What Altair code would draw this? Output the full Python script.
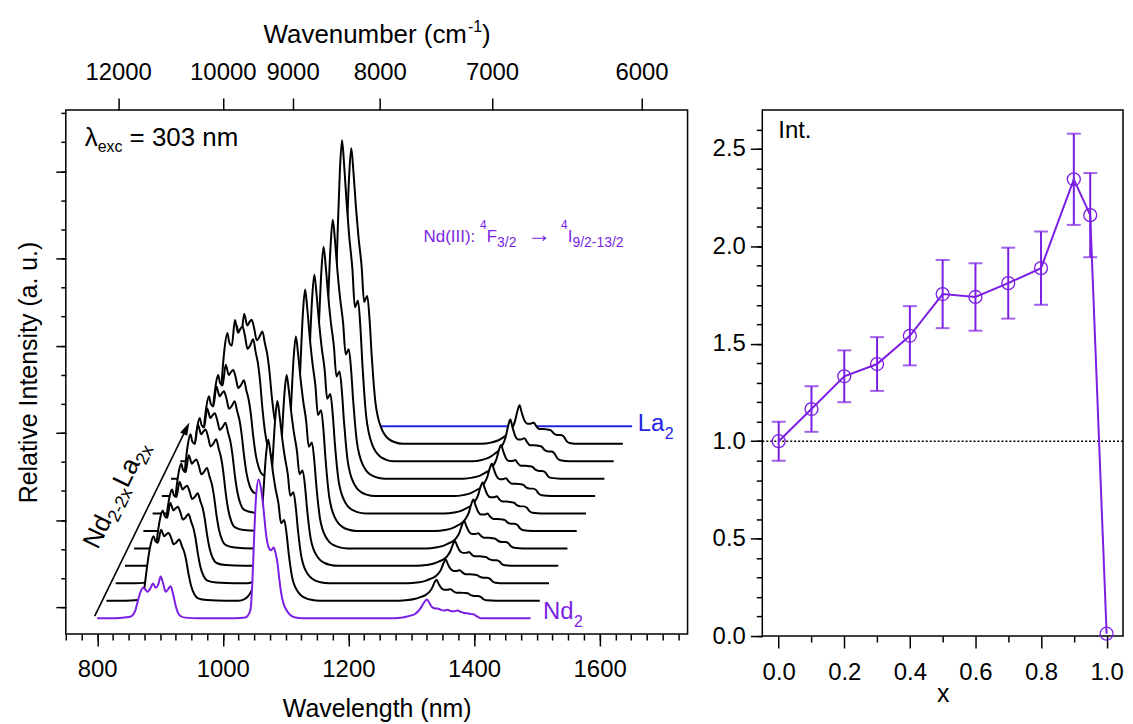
import math
import altair as alt
import pandas as pd

# ---------------------------------------------------------------- data
# Nd2 (x = 0) emission profile, normalised to the 1057 nm maximum
ND2_WAVELENGTH = [800, 830, 850, 856, 861, 865, 869, 873, 876, 880, 884, 889, 893, 897, 901, 905, 909, 913, 917, 921, 925, 929, 934, 940, 960,
                  1020, 1036, 1040, 1044, 1047, 1050, 1053, 1057, 1061, 1065, 1069, 1073, 1077, 1081, 1084, 1087, 1090, 1093, 1097, 1101, 1105, 1110, 1116, 1125,
                  1200, 1275, 1284, 1292, 1300, 1306, 1311, 1316, 1320, 1325, 1329, 1333, 1338, 1342, 1347, 1352, 1358, 1364, 1369, 1374, 1379, 1384, 1390, 1395, 1399, 1404, 1411, 1430, 1490]
ND2_INTENSITY = [0.0, 0.0, 0.008, 0.02, 0.06, 0.13, 0.19, 0.22, 0.21, 0.19, 0.21, 0.25, 0.22, 0.24, 0.30, 0.25, 0.19, 0.21, 0.23, 0.17, 0.09, 0.035, 0.012, 0.004, 0.0,
                 0.0, 0.005, 0.02, 0.06, 0.25, 0.6, 0.88, 1.0, 0.93, 0.78, 0.6, 0.51, 0.49, 0.51, 0.47, 0.4, 0.28, 0.18, 0.1, 0.06, 0.035, 0.015, 0.005, 0.0,
                 0.0, 0.0, 0.004, 0.01, 0.02, 0.03, 0.05, 0.08, 0.11, 0.135, 0.11, 0.08, 0.07, 0.07, 0.06, 0.055, 0.06, 0.05, 0.05, 0.055, 0.045, 0.038, 0.035, 0.03, 0.028, 0.015, 0.0, 0.0, 0.0]

# Nd(2-2x)La(2x) (0 < x < 1) emission profile, normalised to the 1057 nm maximum
DOPED_WAVELENGTH = [800, 830, 850, 856, 860, 864, 868, 871, 875, 878, 882, 887, 892, 895, 899, 903, 907, 911, 916, 920, 924, 927, 931, 935, 940, 946, 960, 990,
                    1010, 1020, 1028, 1035, 1041, 1046, 1050, 1054, 1057.5, 1061, 1065, 1069, 1074, 1078, 1083, 1087, 1090, 1093, 1096, 1100, 1105, 1111, 1118, 1126, 1140,
                    1200, 1265, 1280, 1292, 1301, 1308, 1313, 1318, 1322, 1325.5, 1329, 1333, 1338, 1343, 1348, 1352, 1357, 1364, 1370, 1375, 1380, 1386, 1391, 1396, 1400, 1405, 1420, 1490]
DOPED_INTENSITY = [0.0, 0.0, 0.005, 0.02, 0.07, 0.19, 0.3, 0.36, 0.4, 0.37, 0.36, 0.44, 0.4, 0.41, 0.42, 0.39, 0.35, 0.36, 0.38, 0.34, 0.3, 0.25, 0.16, 0.09, 0.04, 0.015, 0.004, 0.0,
                   0.0, 0.01, 0.04, 0.1, 0.22, 0.45, 0.68, 0.9, 1.0, 0.92, 0.8, 0.7, 0.6, 0.48, 0.5, 0.41, 0.3, 0.21, 0.14, 0.09, 0.055, 0.03, 0.015, 0.006, 0.0,
                   0.0, 0.0, 0.004, 0.012, 0.024, 0.035, 0.05, 0.075, 0.11, 0.13, 0.105, 0.08, 0.068, 0.068, 0.072, 0.06, 0.05, 0.05, 0.048, 0.046, 0.035, 0.03, 0.03, 0.024, 0.01, 0.003, 0.0, 0.0]

SAMPLE_X = [0.0, 0.1, 0.2, 0.3, 0.4, 0.5, 0.6, 0.7, 0.8, 0.9, 0.95, 1.0]
# height of the 1057 nm peak of each trace in the waterfall (a. u.)
PEAK_HEIGHT = [1.59, 1.85, 2.09, 2.19, 2.43, 2.77, 2.74, 2.86, 2.97, 3.68, 3.39, 0.0]
# integrated intensity relative to Nd2 and its error
REL_INT = [1.0, 1.165, 1.333, 1.396, 1.541, 1.755, 1.74, 1.811, 1.888, 2.344, 2.16, 0.012]
REL_INT_ERR = [0.10, 0.117, 0.133, 0.138, 0.152, 0.175, 0.173, 0.182, 0.188, 0.234, 0.216, 0.0]
REFERENCE_LEVEL = [1.0]

WAVENUMBER_TICKS = [12000, 10000, 9000, 8000, 7000, 6000]
WAVELENGTH_TICKS = [800, 1000, 1200, 1400, 1600]
WAVELENGTH_MINOR = list(range(750, 1741, 25))
INTENSITY_MAJOR = [0, 1, 2, 3, 4, 5]
INTENSITY_MINOR = [k / 3 for k in range(0, 18)]
X_MAJOR = [0.0, 0.2, 0.4, 0.6, 0.8, 1.0]
X_MINOR = [0.1, 0.3, 0.5, 0.7, 0.9]
INT_MAJOR = [0.0, 0.5, 1.0, 1.5, 2.0, 2.5]
INT_MINOR = [k / 10 for k in range(0, 27)]

# ---------------------------------------------------------------- style
PURPLE = "#7b1fe4"
BLUE = "#2323e6"
FONT = "Liberation Sans"
X_STEP = 14.7     # waterfall x offset per trace (nm)
Y_STEP = 0.2      # waterfall y offset per trace (a. u.)
Y_BASE = -0.125

W_L, W_R, H_L, H_R = 624, 362, 526, 528
XS = alt.Scale(domain=[750, 1740], nice=False, zero=False)
YS = alt.Scale(domain=[-0.307, 5.704], nice=False, zero=False)
RX = alt.Scale(domain=[-0.05, 1.05], nice=False, zero=False)
RY = alt.Scale(domain=[0, 2.7], nice=False, zero=False)


def spectrum_df(i):
    if i == 0:
        lam, prof = ND2_WAVELENGTH, ND2_INTENSITY
    else:
        lam, prof = DOPED_WAVELENGTH, DOPED_INTENSITY
    base = Y_BASE + i * Y_STEP
    return pd.DataFrame({
        "w": [l + i * X_STEP for l in lam],
        "y": [base + PEAK_HEIGHT[i] * p for p in prof],
        "b": [base] * len(lam),
    })


n = len(SAMPLE_X)
layers = []
for i in reversed(range(n)):
    df = spectrum_df(i)
    color = PURPLE if i == 0 else (BLUE if i == n - 1 else "black")
    area = alt.Chart(df).mark_area(color="white", interpolate="monotone").encode(
        x=alt.X("w:Q", scale=XS, axis=None),
        y=alt.Y("y:Q", scale=YS, axis=None),
        y2="b:Q",
    )
    line = alt.Chart(df).mark_line(color=color, strokeWidth=2, interpolate="monotone").encode(
        x=alt.X("w:Q", scale=XS, axis=None),
        y=alt.Y("y:Q", scale=YS, axis=None),
    )
    layers += [area, line]

anchor = pd.DataFrame({"w": [1000.0], "y": [1.0]})


def axis_layer(xs, ys, xaxis, yaxis):
    return alt.Chart(anchor).mark_point(opacity=0).encode(
        x=alt.X("w:Q", scale=xs, axis=xaxis),
        y=alt.Y("y:Q", scale=ys, axis=yaxis),
    )


common = dict(domain=False, grid=False)
bottom_major = alt.Axis(orient="bottom", values=WAVELENGTH_TICKS, tickSize=12, labelFontSize=24, labelPadding=12,
                        title="Wavelength (nm)", titleFontSize=25, titlePadding=15, format="d", **common)
bottom_minor = alt.Axis(orient="bottom", values=WAVELENGTH_MINOR, tickSize=6, labels=False, title="", **common)
top_axis = alt.Axis(orient="top", values=[1e7 / v for v in WAVENUMBER_TICKS],
                    labelExpr="format(round(1e7 / datum.value), 'd')", tickSize=12, labelFontSize=24,
                    labelPadding=14, labelOverlap=False, title="", **common)
left_major = alt.Axis(orient="left", values=INTENSITY_MAJOR, tickSize=10, labels=False,
                      title="Relative Intensity (a. u.)", titleFontSize=25, titlePadding=14, **common)
left_minor = alt.Axis(orient="left", values=INTENSITY_MINOR, tickSize=5, labels=False, title="", **common)

layers.append(axis_layer(XS, YS, bottom_major, left_major))
layers.append(axis_layer(XS, YS, bottom_minor, left_minor))
layers.append(axis_layer(XS, YS, top_axis, None))

# ---------------- annotations (pixel positions inside the left panel)
pieces = []


def piece(x, y, text, size, color="black", angle=0):
    pieces.append({"px": x, "py": y, "t": text, "fs": size, "c": color, "a": angle})


piece(19, 36, "λ", 26)
piece(32, 42, "exc", 16)
piece(64, 36, "= 303 nm", 26)
# Nd(III): 4F3/2 -> 4I9/2-13/2
piece(359, 133, "Nd(III):", 17, PURPLE)
piece(415.7, 120, "4", 12, PURPLE)
piece(422.4, 133, "F", 17, PURPLE)
piece(432.8, 138, "3/2", 14, PURPLE)
piece(463, 133, "→", 24, PURPLE)
piece(497, 120, "4", 12, PURPLE)
piece(503.7, 133, "I", 17, PURPLE)
piece(508.4, 138, "9/2-13/2", 14, PURPLE)
piece(574, 322, "La", 24, BLUE)
piece(601, 330, "2", 16, BLUE)
piece(479, 511, "Nd", 24, PURPLE)
piece(510, 519, "2", 16, PURPLE)
# top axis title with superscript
piece(198.5, -67, "Wavenumber (cm", 26)
piece(403.6, -78, "-1", 16)
piece(417.8, -67, ")", 26)
# rotated series label
th = math.radians(-64)
d = (math.cos(th), math.sin(th))
down = (-d[1], d[0])
S = (32, 442)
for off, drop, txt, fs in [(0, 0, "Nd", 26), (33.5, 6, "2-2x", 18), (68.5, 0, "La", 26), (97.5, 6, "2x", 18)]:
    piece(S[0] + off * d[0] + drop * down[0], S[1] + off * d[1] + drop * down[1], txt, fs, "black", 296)

text_df = pd.DataFrame(pieces)
texts = alt.Chart(text_df).mark_text(align="left", baseline="alphabetic", font=FONT).encode(
    x=alt.X("px:Q", scale=None, axis=None),
    y=alt.Y("py:Q", scale=None, axis=None),
    text="t:N",
    size=alt.Size("fs:Q", scale=None, legend=None),
    color=alt.Color("c:N", scale=None, legend=None),
    angle=alt.Angle("a:Q", scale=None, legend=None),
)

tail, tip = (29, 508), (124, 313.7)
L = math.hypot(tip[0] - tail[0], tip[1] - tail[1])
u = ((tip[0] - tail[0]) / L, (tip[1] - tail[1]) / L)
arrow_df = pd.DataFrame({"x1": [tail[0]], "y1": [tail[1]],
                         "x2": [tip[0] - 10 * u[0]], "y2": [tip[1] - 10 * u[1]],
                         "hx": [tip[0] - 6.5 * u[0]], "hy": [tip[1] - 6.5 * u[1]],
                         "ang": [math.degrees(math.atan2(u[0], -u[1]))]})
arrow_line = alt.Chart(arrow_df).mark_rule(color="black", strokeWidth=1.6).encode(
    x=alt.X("x1:Q", scale=None, axis=None), y=alt.Y("y1:Q", scale=None, axis=None),
    x2="x2:Q", y2="y2:Q")
arrow_head = alt.Chart(arrow_df).mark_point(shape="M0,-1L0.6,1L-0.6,1Z", filled=True, size=169,
                                            color="black", opacity=1).encode(
    x=alt.X("hx:Q", scale=None, axis=None), y=alt.Y("hy:Q", scale=None, axis=None),
    angle=alt.Angle("ang:Q", scale=None, legend=None))

left = alt.layer(*layers, arrow_line, arrow_head, texts).resolve_axis(x="independent", y="independent").properties(
    width=W_L, height=H_L)

# ---------------------------------------------------------------- right panel
rdf = pd.DataFrame({"x": SAMPLE_X, "v": REL_INT,
                    "lo": [v - e for v, e in zip(REL_INT, REL_INT_ERR)],
                    "hi": [v + e for v, e in zip(REL_INT, REL_INT_ERR)],
                    "e": REL_INT_ERR})
ref = alt.Chart(pd.DataFrame({"v": REFERENCE_LEVEL})).mark_rule(color="black", strokeDash=[2, 2], strokeWidth=1.5).encode(
    y=alt.Y("v:Q", scale=RY, axis=None))
rline = alt.Chart(rdf).mark_line(color=PURPLE, strokeWidth=2).encode(
    x=alt.X("x:Q", scale=RX, axis=None), y=alt.Y("v:Q", scale=RY, axis=None))
rerr = alt.Chart(rdf).transform_filter("datum.e > 0").mark_errorbar(ticks=True, color=PURPLE, thickness=2, size=14).encode(
    x=alt.X("x:Q", scale=RX, axis=None), y=alt.Y("lo:Q", scale=RY, axis=None, title=""), y2="hi:Q")
rpts = alt.Chart(rdf).mark_point(shape="circle", filled=False, size=169, strokeWidth=1.3, color=PURPLE, opacity=1).encode(
    x=alt.X("x:Q", scale=RX, axis=None), y=alt.Y("v:Q", scale=RY, axis=None))

rx_major = alt.Axis(orient="bottom", values=X_MAJOR, format=".1f", tickSize=12, labelFontSize=24, labelPadding=13,
                    title="x", titleFontSize=25, titlePadding=-3, **common)
rx_minor = alt.Axis(orient="bottom", values=X_MINOR, tickSize=6, labels=False, title="", **common)
ry_major = alt.Axis(orient="left", values=INT_MAJOR, format=".1f", tickSize=12, labelFontSize=24, labelPadding=5,
                    title="", **common)
ry_minor = alt.Axis(orient="left", values=INT_MINOR, tickSize=6, labels=False, title="", **common)
ranchor = pd.DataFrame({"w": [0.5], "y": [1.0]})


def raxis_layer(xaxis, yaxis):
    return alt.Chart(ranchor).mark_point(opacity=0).encode(
        x=alt.X("w:Q", scale=RX, axis=xaxis), y=alt.Y("y:Q", scale=RY, axis=yaxis))


rtext = alt.Chart(pd.DataFrame({"px": [16], "py": [28], "t": ["Int."]})).mark_text(
    align="left", baseline="alphabetic", font=FONT, fontSize=24, color="black").encode(
    x=alt.X("px:Q", scale=None, axis=None), y=alt.Y("py:Q", scale=None, axis=None), text="t:N")

right = alt.layer(ref, rline, rerr, rpts, raxis_layer(rx_major, ry_major), raxis_layer(rx_minor, ry_minor),
                  rtext).resolve_axis(x="independent", y="independent").properties(width=W_R, height=H_R)

chart = alt.hconcat(left, right, spacing=22).properties(
    padding={"left": 7, "top": 9, "right": 0, "bottom": 2}
).configure_view(stroke="black", strokeWidth=1.5).configure_axis(
    labelFont=FONT, titleFont=FONT, labelColor="black", titleColor="black", tickColor="black",
    tickWidth=1.5, titleFontWeight="normal"
).configure_text(font=FONT)

chart.save("out.html", embed_options={"renderer": "svg", "actions": False})
